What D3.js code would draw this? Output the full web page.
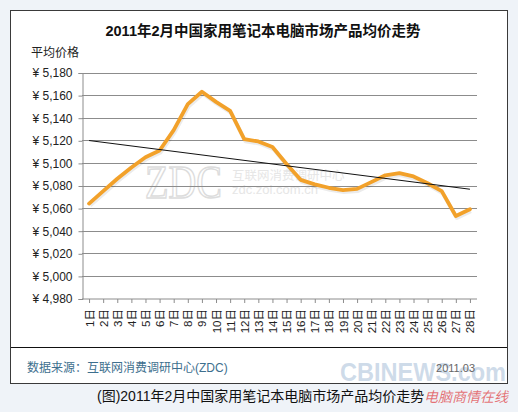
<!DOCTYPE html>
<html>
<head>
<meta charset="utf-8">
<script src="https://cdn.jsdelivr.net/npm/d3@7"></script>
<style>
  body { margin: 0; background: #eff3f8; }
  svg { display: block; }
</style>
</head>
<body>
<div class="chart"></div>
<script>
const days = d3.range(1, 29).map((d) => d + "日");
const prices = [5064, 5075, 5086, 5096, 5105, 5111, 5129, 5152, 5163, 5154,
  5146, 5121, 5119, 5114, 5099, 5085, 5081, 5078, 5076, 5077,
  5083, 5089, 5091, 5088, 5082, 5075, 5053, 5059];
const yTicks = [4980, 5000, 5020, 5040, 5060, 5080, 5100, 5120, 5140, 5160, 5180];

const width = 518,
  height = 412,
  lineColor = "#f2a12a",
  gridColor = "#8c8c8c",
  font = "'Liberation Sans', Arial, 'Noto Sans CJK SC', sans-serif";

const svg = d3
  .select(".chart")
  .append("svg")
  .attr("width", width)
  .attr("height", height);

// white frame
svg
  .append("rect")
  .attr("x", 10.5)
  .attr("y", 10.5)
  .attr("width", 497)
  .attr("height", 373)
  .attr("fill", "white")
  .attr("stroke", "#3a3a3a");

svg
  .append("text")
  .text("2011年2月中国家用笔记本电脑市场产品均价走势")
  .attr("x", 263)
  .attr("y", 36)
  .attr("text-anchor", "middle")
  .style("font", `bold 14.5px ${font}`)
  .attr("fill", "#111");

svg
  .append("text")
  .text("平均价格")
  .attr("x", 31)
  .attr("y", 57)
  .style("font", `12px ${font}`)
  .attr("fill", "#222");

const xScale = d3.scaleBand().domain(days).range([82, 477]);

const yScale = d3.scaleLinear().domain([4980, 5180]).range([298.5, 72.5]);

// watermark
const mark = svg.append("g").attr("fill", "#e6e6e6");
mark
  .append("text")
  .text("ZDC")
  .attr("x", 145)
  .attr("y", 198)
  .attr("textLength", 77)
  .attr("lengthAdjust", "spacingAndGlyphs")
  .style("font", "46px 'Liberation Serif', serif")
  .attr("fill", "none")
  .attr("stroke", "#dcdcdc")
  .attr("stroke-width", 1.5);
mark
  .append("text")
  .text("互联网消费调研中心")
  .attr("x", 232)
  .attr("y", 180)
  .style("font", `12.5px ${font}`);
mark
  .append("text")
  .text("zdc.zol.com.cn")
  .attr("x", 232)
  .attr("y", 194)
  .style("font", `13px ${font}`);

// grid lines
svg
  .append("g")
  .selectAll("line")
  .data(yTicks.slice(1))
  .enter()
  .append("line")
  .attr("x1", 82)
  .attr("x2", 477)
  .attr("y1", (d) => Math.round(yScale(d)) + 0.5)
  .attr("y2", (d) => Math.round(yScale(d)) + 0.5)
  .attr("stroke", gridColor);

const yAxis = d3
  .axisLeft(yScale)
  .tickValues(yTicks)
  .tickSize(4)
  .tickPadding(6)
  .tickFormat((d) => "¥ " + d3.format(",")(d));

const yg = svg
  .append("g")
  .attr("transform", "translate(82.5, 0.5)")
  .call(yAxis);
yg.selectAll("path, line").attr("stroke", gridColor);
yg.selectAll("text").style("font", `12px ${font}`).attr("fill", "#222");

const xAxis = d3.axisBottom(xScale).tickSize(4).tickPadding(6);

const xg = svg
  .append("g")
  .attr("transform", "translate(0.5, 299)")
  .call(xAxis);
xg.select(".domain").attr("d", "M81.5,0H476.5").attr("stroke", gridColor);
xg.selectAll("line").attr("stroke", gridColor);
xg.selectAll("text")
  .attr("transform", "rotate(-90)")
  .attr("x", -10)
  .attr("y", 0)
  .attr("dy", "0.35em")
  .style("text-anchor", "end")
  .style("font", `11.5px ${font}`)
  .attr("fill", "#222");

const points = prices.map((p, i) => [days[i], p]);

const priceLine = d3
  .line()
  .x((d) => xScale(d[0]) + xScale.bandwidth() / 2)
  .y((d) => yScale(d[1]));

// soft shadow under the line
svg
  .append("path")
  .attr("d", priceLine(points))
  .attr("transform", "translate(1, 2)")
  .attr("stroke", "#000")
  .attr("stroke-opacity", 0.08)
  .attr("stroke-width", 4)
  .attr("stroke-linejoin", "round")
  .attr("fill", "none");

svg
  .append("path")
  .attr("d", priceLine(points))
  .attr("stroke", lineColor)
  .attr("stroke-width", 3.8)
  .attr("stroke-linejoin", "round")
  .attr("stroke-linecap", "round")
  .attr("fill", "none");

// linear trend line
const xs = d3.range(1, prices.length + 1);
const mx = d3.mean(xs),
  my = d3.mean(prices);
const slope =
  d3.sum(xs, (x, i) => (x - mx) * (prices[i] - my)) /
  d3.sum(xs, (x) => (x - mx) * (x - mx));
const trend = [
  [days[0], my + slope * (1 - mx)],
  [days[days.length - 1], my + slope * (prices.length - mx)],
];

svg
  .append("path")
  .attr("d", priceLine(trend))
  .attr("stroke", "#111")
  .attr("stroke-width", 1)
  .attr("fill", "none");

// footer
svg
  .append("line")
  .attr("x1", 11)
  .attr("x2", 507)
  .attr("y1", 347.5)
  .attr("y2", 347.5)
  .attr("stroke", "#111");

svg
  .append("text")
  .text("CBINEWS.com")
  .attr("x", 340)
  .attr("y", 381)
  .attr("textLength", 166)
  .attr("lengthAdjust", "spacingAndGlyphs")
  .style("font", `bold 25px ${font}`)
  .attr("fill", "#b9cbe0")
  .attr("fill-opacity", 0.7);

svg
  .append("text")
  .text("数据来源：互联网消费调研中心(ZDC)")
  .attr("x", 27)
  .attr("y", 372)
  .style("font", `12px ${font}`)
  .attr("fill", "#3d6f8e");

svg
  .append("text")
  .text("2011.03")
  .attr("x", 475)
  .attr("y", 372)
  .attr("text-anchor", "end")
  .style("font", `11px ${font}`)
  .attr("fill", "#666");

svg
  .append("text")
  .text("(图)2011年2月中国家用笔记本电脑市场产品均价走势")
  .attr("x", 97)
  .attr("y", 401)
  .style("font", `14px ${font}`)
  .attr("fill", "#111");

svg
  .append("text")
  .text("电脑商情在线")
  .attr("x", 424)
  .attr("y", 402)
  .style("font", `italic 14px ${font}`)
  .attr("fill", "#e0464a")
  .attr("fill-opacity", 0.75);
</script>
</body>
</html>
